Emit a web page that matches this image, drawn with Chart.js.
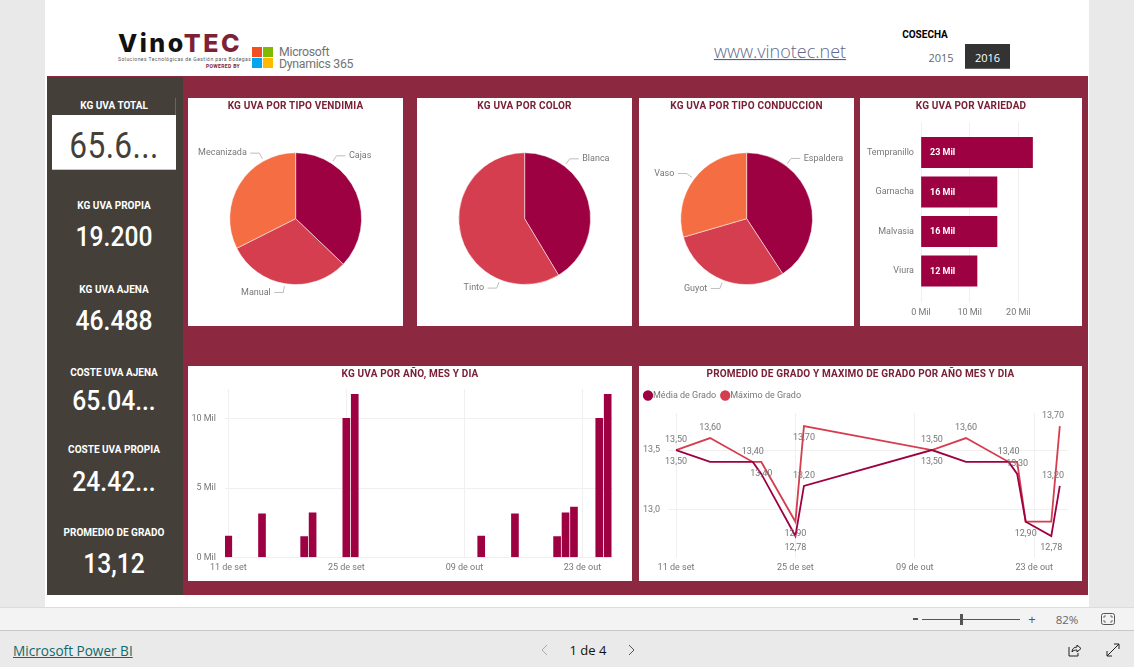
<!DOCTYPE html>
<html lang="pt"><head><meta charset="utf-8"><title>VinoTEC</title>
<script src="https://cdn.jsdelivr.net/npm/chart.js@4/dist/chart.umd.min.js"></script>
<style>
html,body{margin:0;padding:0;width:1134px;height:667px;overflow:hidden;background:#eaeaea;font-family:Roboto,sans-serif}
.a{position:absolute}
.t{position:absolute;white-space:nowrap;line-height:1;transform:translate(-50%,-50%)}
.panel{position:absolute;background:#fff}
.panel canvas{position:absolute;left:0;top:0}
.ttl{position:absolute;left:0;right:0;top:2px;text-align:center;font:700 10px Roboto,sans-serif;color:#7a2138;line-height:11px;letter-spacing:.17px;z-index:2;white-space:nowrap}
.k{font:700 10px Roboto,sans-serif;color:#fff;left:114px}
.v{font-family:Roboto,sans-serif;font-weight:500;color:#fff;left:114px;font-size:28px;transform:translate(-50%,-50%) scaleX(.88)}
</style></head><body>
<div class="a" style="left:0;top:0;width:1134px;height:607px;background:#e9e9e9"></div>
<div class="a" style="left:45px;top:0;width:1044px;height:607px;background:#fff"></div>
<div class="a" style="left:47px;top:76px;width:1041px;height:519px;background:#8c2840"></div>
<div class="a" style="left:47px;top:77px;width:136px;height:518px;background:#453f3a"></div>

<div class="t" style="top:43px;font:800 25px Inter,sans-serif;letter-spacing:2.5px;transform:translate(0,-50%);left:118px;color:#111">Vino<span style="color:#7d2137">TEC</span></div>
<div class="t" style="left:118px;top:59px;transform:translate(0,-50%);font:400 5px Roboto,sans-serif;color:#555;letter-spacing:.45px">Soluciones Tecnológicas de Gestión para Bodegas</div>
<div class="t" style="left:206px;top:66px;transform:translate(0,-50%);font:700 5px Roboto,sans-serif;color:#7d2137;letter-spacing:.35px">POWERED BY</div>
<div class="a" style="left:252px;top:47px;width:10px;height:10px;background:#f25022"></div>
<div class="a" style="left:263px;top:47px;width:10px;height:10px;background:#7fba00"></div>
<div class="a" style="left:252px;top:58px;width:10px;height:10px;background:#00a4ef"></div>
<div class="a" style="left:263px;top:58px;width:10px;height:10px;background:#ffb900"></div>
<div class="t" style="left:279px;top:52px;transform:translate(0,-50%);font:400 12.3px Roboto,sans-serif;color:#737373;letter-spacing:-.3px">Microsoft</div>
<div class="t" style="left:279px;top:64px;transform:translate(0,-50%);font:400 12.3px Roboto,sans-serif;color:#737373;letter-spacing:-.3px">Dynamics 365</div>
<div class="t" style="left:780px;top:52px;font:300 18px 'Open Sans',sans-serif;color:#5f6a8c;text-decoration:underline;text-decoration-color:#3450a8;line-height:1.1">www.vinotec.net</div>
<div class="t" style="left:925px;top:34px;font:700 10px Roboto,sans-serif;color:#000">COSECHA</div>
<div class="t" style="left:941px;top:57px;font:400 11px 'Open Sans',sans-serif;color:#666">2015</div>
<div class="a" style="left:965px;top:44px;width:45px;height:25px;background:#333;border-bottom:1px solid #666;box-sizing:border-box"></div>
<div class="t" style="left:987.5px;top:57px;font:400 11px 'Open Sans',sans-serif;color:#fff">2016</div>

<div class="a" style="left:175px;top:98px;width:1px;height:18px;background:#6b655f"></div>
<div class="a" style="left:52px;top:115px;width:124px;height:55px;background:#fff;border-bottom:1px solid #c9c4bd;box-sizing:border-box"></div>
<div class="t k" style="top:105px">KG UVA TOTAL</div>
<div class="t v" style="top:146px;color:#453f3a;font-size:36px;letter-spacing:.4px;font-weight:400">65.6...</div>
<div class="t k" style="top:205px">KG UVA PROPIA</div>
<div class="t v" style="top:237px">19.200</div>
<div class="t k" style="top:289px">KG UVA AJENA</div>
<div class="t v" style="top:321px">46.488</div>
<div class="t k" style="top:372px">COSTE UVA AJENA</div>
<div class="t v" style="top:401px">65.04...</div>
<div class="t k" style="top:449px">COSTE UVA PROPIA</div>
<div class="t v" style="top:482px">24.42...</div>
<div class="t k" style="top:532px">PROMEDIO DE GRADO</div>
<div class="t v" style="top:564px">13,12</div>

<div class="panel" style="left:188px;top:98px;width:215px;height:228px"><div class="ttl">KG UVA POR TIPO VENDIMIA</div><canvas id="c1" width="215" height="228"></canvas></div>
<div class="panel" style="left:417px;top:98px;width:215px;height:228px"><div class="ttl">KG UVA POR COLOR</div><canvas id="c2" width="215" height="228"></canvas></div>
<div class="panel" style="left:639px;top:98px;width:215px;height:228px"><div class="ttl">KG UVA POR TIPO CONDUCCION</div><canvas id="c3" width="215" height="228"></canvas></div>
<div class="panel" style="left:860px;top:98px;width:222px;height:228px"><div class="ttl">KG UVA POR VARIEDAD</div><canvas id="c4" width="222" height="228"></canvas></div>
<div class="panel" style="left:188px;top:366px;width:444px;height:215px"><div class="ttl">KG UVA POR AÑO, MES Y DIA</div><canvas id="c5" width="444" height="215"></canvas></div>
<div class="panel" style="left:639px;top:366px;width:443px;height:215px"><div class="ttl">PROMEDIO DE GRADO Y MAXIMO DE GRADO POR AÑO MES Y DIA</div><canvas id="c6" width="443" height="215"></canvas></div>

<div class="a" style="left:0;top:607px;width:1134px;height:23px;background:#f3f3f3;border-top:1px solid #dcdcdc;box-sizing:border-box"></div>
<div class="a" style="left:0;top:630px;width:1134px;height:1px;background:#c8c8c8"></div>
<div class="a" style="left:913px;top:618px;width:5px;height:2px;background:#555"></div>
<div class="a" style="left:922px;top:619px;width:98px;height:1px;background:#555"></div>
<div class="a" style="left:960px;top:614px;width:3px;height:11px;background:#555"></div>
<div class="t" style="left:1032px;top:619px;font:400 13px 'Open Sans',sans-serif;color:#555">+</div>
<div class="t" style="left:1067px;top:619px;font:400 11.5px 'Open Sans',sans-serif;color:#666">82%</div>
<svg class="a" style="left:1100px;top:612px" width="16" height="14"><rect x="1.5" y="1.5" width="13" height="11" rx="2" fill="none" stroke="#555"/><path d="M4 6V4h2M12 6V4h-2M4 8v2h2M12 8v2h-2" fill="none" stroke="#555" stroke-width=".8"/></svg>
<div class="a" style="left:13px;top:642px;font:400 13.6px 'Open Sans',sans-serif;color:#0f6b6b;text-decoration:underline;line-height:18px">Microsoft Power BI</div>
<div class="t" style="left:588px;top:650px;font:500 13px 'Open Sans',sans-serif;color:#111">1 de 4</div>
<svg class="a" style="left:540px;top:643px" width="10" height="14"><path d="M7 2L2 7l5 5" fill="none" stroke="#aaa"/></svg>
<svg class="a" style="left:626px;top:643px" width="10" height="14"><path d="M3 2l5 5-5 5" fill="none" stroke="#555"/></svg>
<svg class="a" style="left:1066px;top:642px" width="16" height="16"><path d="M3 5v9h9v-3" fill="none" stroke="#222"/><path d="M6 10c0-3 2-5 5-5V3l4 3.5L11 10V8c-2 0-4 .5-5 2z" fill="none" stroke="#222"/></svg>
<svg class="a" style="left:1105px;top:642px" width="16" height="16"><path d="M2 14L14 2M9 2h5v5M2 9v5h5" fill="none" stroke="#222"/></svg>

<script>
// ---------- data ----------
const vendimiaLabels = ['Cajas', 'Manual', 'Mecanizada'];
const vendimiaValues = [24.4, 20.0, 21.3];
const colorLabels = ['Blanca', 'Tinto'];
const colorValues = [27.2, 38.5];
const conduccionLabels = ['Espaldera', 'Guyot', 'Vaso'];
const conduccionValues = [26.8, 19.5, 19.4];
const variedades = ['Tempranillo', 'Garnacha', 'Malvasia', 'Viura'];
const variedadValues = [22900, 15600, 15600, 11500];
const variedadTicks = [0, 10000, 20000];

const tickDays = [0, 14, 28, 42];
const tickDayLabels = ['11 de set', '25 de set', '09 de out', '23 de out'];
const barDays = [0, 4, 9, 10, 14, 15, 30, 34, 39, 40, 41, 44, 45];
const kgPorDia = [1540, 3130, 1490, 3200, 10020, 11750, 1540, 3130, 1490, 3200, 3630, 10020, 11750];
const kgTicks = [0, 5000, 10000];

const lineDays = [0, 4, 9, 10, 14, 15, 30, 34, 39, 40, 41, 44, 45];
const mediaGrado = [13.5, 13.4, 13.4, 13.3, 12.78, 13.2, 13.5, 13.4, 13.4, 13.3, 12.9, 12.78, 13.2];
const maximoGrado = [13.5, 13.6, 13.4, 13.4, 12.9, 13.7, 13.5, 13.6, 13.4, 13.4, 12.9, 12.9, 13.7];
const gradoTicks = [13.0, 13.5];

// ---------- style ----------
const C1 = '#9e0142', C2 = '#d53e4f', C3 = '#f46d43';
const TXT = '#777777', GRID = '#f0f0f0';
const FONT = { family: 'Roboto, sans-serif', size: 9 };
Chart.defaults.animation = false;
Chart.defaults.responsive = false;
Chart.defaults.font.family = FONT.family;
Chart.defaults.font.size = FONT.size;
Chart.defaults.color = TXT;
Chart.defaults.plugins.legend.display = false;
Chart.defaults.plugins.tooltip.enabled = false;

// pie outside labels with a bent leader line
const pieLabels = {
  id: 'pieLabels',
  afterDatasetsDraw(chart, args, opts) {
    const ctx = chart.ctx, arcs = chart.getDatasetMeta(0).data;
    ctx.save();
    ctx.font = FONT.size + 'px ' + FONT.family;
    ctx.textBaseline = 'middle';
    arcs.forEach((arc, i) => {
      const a = opts.angles[i] * Math.PI / 180, r = arc.outerRadius;
      const sx = arc.x + Math.sin(a) * (r + 2.5), sy = arc.y - Math.cos(a) * (r + 2.5);
      const bx = arc.x + Math.sin(a) * (r + 9), by = arc.y - Math.cos(a) * (r + 9);
      const dir = Math.sin(a) >= 0 ? 1 : -1;
      ctx.strokeStyle = '#bdbdbd'; ctx.lineWidth = 1;
      ctx.beginPath(); ctx.moveTo(sx, sy); ctx.lineTo(bx, by); ctx.lineTo(bx + dir * 9, by); ctx.stroke();
      ctx.fillStyle = TXT;
      ctx.textAlign = dir > 0 ? 'left' : 'right';
      ctx.fillText(chart.data.labels[i], bx + dir * 12.5, by);
    });
    ctx.restore();
  }
};
function pie(id, labels, values, colors, angles) {
  new Chart(document.getElementById(id), {
    type: 'pie',
    data: { labels, datasets: [{ data: values, backgroundColor: colors, borderColor: '#fff', borderWidth: .5 }] },
    options: {
      layout: { padding: { top: 54.5, bottom: 41.2, left: 41.5, right: 41.2 } },
      plugins: { pieLabels: { angles } }
    },
    plugins: [pieLabels]
  });
}
pie('c1', vendimiaLabels, vendimiaValues, [C1, C2, C3], [33, 189.5, 331]);
pie('c2', colorLabels, colorValues, [C1, C2], [37, 202]);
pie('c3', conduccionLabels, conduccionValues, [C1, C2, C3], [36.5, 201, 307]);

const setTicks = list => axis => { axis.ticks = list.map(v => ({ value: v })); };
const fixW = w => s => { s.width = w; };
const fixH = h => s => { s.height = h; };
const mil = v => (v / 1000) + ' Mil';

// ---------- variedad ----------
const barInside = {
  id: 'barInside',
  afterDatasetsDraw(chart) {
    const ctx = chart.ctx;
    ctx.save();
    ctx.font = '700 9px ' + FONT.family;
    ctx.fillStyle = '#fff';
    ctx.textBaseline = 'middle';
    chart.getDatasetMeta(0).data.forEach((b, i) => {
      ctx.fillText(Math.round(variedadValues[i] / 1000) + ' Mil', b.base + 8.5, b.y + .5);
    });
    ctx.restore();
  }
};
new Chart(document.getElementById('c4'), {
  type: 'bar',
  data: { datasets: [{ data: variedadValues.map((v, i) => ({ x: v, y: i })), backgroundColor: C1, barThickness: 30.5 }] },
  options: {
    indexAxis: 'y',
    layout: { padding: { top: 24, right: 12 } },
    scales: {
      x: { type: 'linear', min: 0, max: 30595, afterBuildTicks: setTicks(variedadTicks), afterFit: fixH(23),
           grid: { color: GRID, drawTicks: false }, border: { display: false },
           ticks: { callback: mil, padding: 4, maxRotation: 0 } },
      y: { type: 'linear', offset: false, reverse: true, min: -0.772, max: 3.81, afterBuildTicks: setTicks(variedades.map((_, i) => i)), afterFit: fixW(61),
           grid: { display: false, offset: false, drawTicks: false }, border: { display: false },
           ticks: { callback: v => variedades[v], padding: 7 } }
    }
  },
  plugins: [barInside]
});

// ---------- kg por dia ----------
new Chart(document.getElementById('c5'), {
  type: 'bar',
  data: { datasets: [{ data: barDays.map((d, i) => ({ x: d, y: kgPorDia[i] })), backgroundColor: C1, barThickness: 7 }] },
  options: {
    layout: { padding: { top: 23, right: 19 } },
    scales: {
      x: { type: 'linear', offset: false, min: -0.39, max: 45.63, afterBuildTicks: setTicks(tickDays), afterFit: fixH(23.7),
           grid: { color: GRID, drawTicks: false, offset: false }, border: { display: false },
           ticks: { callback: v => tickDayLabels[tickDays.indexOf(v)], padding: 5, maxRotation: 0, autoSkip: false } },
      y: { min: 0, max: 12143, afterBuildTicks: setTicks(kgTicks), afterFit: fixW(37),
           grid: { color: GRID, drawTicks: false }, border: { display: false },
           ticks: { callback: mil, padding: 9 } }
    }
  }
});

// ---------- grado ----------
const pt = (x, y) => ({ x, y });
const gradoLabels = {
  id: 'gradoLabels',
  afterDatasetsDraw(chart, args, opts) {
    const ctx = chart.ctx, maxX = chart.chartArea.right - 15;
    ctx.save();
    ctx.font = FONT.size + 'px ' + FONT.family;
    ctx.fillStyle = TXT; ctx.textAlign = 'center'; ctx.textBaseline = 'middle';
    opts.place.forEach((list, ds) => {
      const meta = chart.getDatasetMeta(ds), vals = chart.data.datasets[ds].data;
      list.forEach((p, i) => {
        if (!p) return;
        const e = meta.data[i];
        ctx.fillText(vals[i].y.toFixed(2).replace('.', ','), Math.min(e.x, maxX), e.y + (p === 'a' ? -10 : 12));
      });
    });
    ctx.restore();
  }
};
const roomUnderLegend = {
  id: 'roomUnderLegend',
  beforeLayout(chart, args, opts) {
    const lg = chart.legend;
    if (lg && !lg._patched) {
      const f = lg.fit;
      lg.fit = function () { f.call(this); this.height += opts.extra; };
      lg._patched = true;
    }
  }
};
new Chart(document.getElementById('c6'), {
  type: 'line',
  data: { datasets: [
    { label: 'Média de Grado', data: lineDays.map((d, i) => pt(d, mediaGrado[i])), borderColor: C1, backgroundColor: C1, borderWidth: 1.8, pointRadius: 0, tension: 0 },
    { label: 'Máximo de Grado', data: lineDays.map((d, i) => pt(d, maximoGrado[i])), borderColor: C2, backgroundColor: C2, borderWidth: 1.8, pointRadius: 0, tension: 0 }
  ] },
  options: {
    layout: { padding: { top: 16.5, right: 14 } },
    plugins: {
      legend: { display: true, position: 'top', align: 'start',
        labels: { usePointStyle: true, pointStyle: 'circle', boxHeight: 6, boxWidth: 1, padding: 8.5, color: TXT, font: { size: 9 } } },
      roomUnderLegend: { extra: 3 },
      gradoLabels: { place: [
        ['b', '', '', '', 'b', 'a', 'b', '', '', 'a', '', 'b', 'a'],
        ['a', 'a', 'a', 'b', 'b', 'b', 'a', 'a', 'a', '', 'b', '', 'a']
      ] }
    },
    scales: {
      x: { type: 'linear', min: -0.94, max: 45.96, afterBuildTicks: setTicks(tickDays), afterFit: fixH(23),
           grid: { color: GRID, drawTicks: false }, border: { display: false },
           ticks: { callback: v => tickDayLabels[tickDays.indexOf(v)], padding: 4, maxRotation: 0, autoSkip: false } },
      y: { min: 12.596, max: 13.81, afterBuildTicks: setTicks(gradoTicks), afterFit: fixW(29),
           grid: { color: GRID, drawTicks: false }, border: { display: false },
           ticks: { callback: v => v.toFixed(1).replace('.', ','), padding: 8 } }
    }
  },
  plugins: [gradoLabels, roomUnderLegend]
});
</script>
</body></html>
